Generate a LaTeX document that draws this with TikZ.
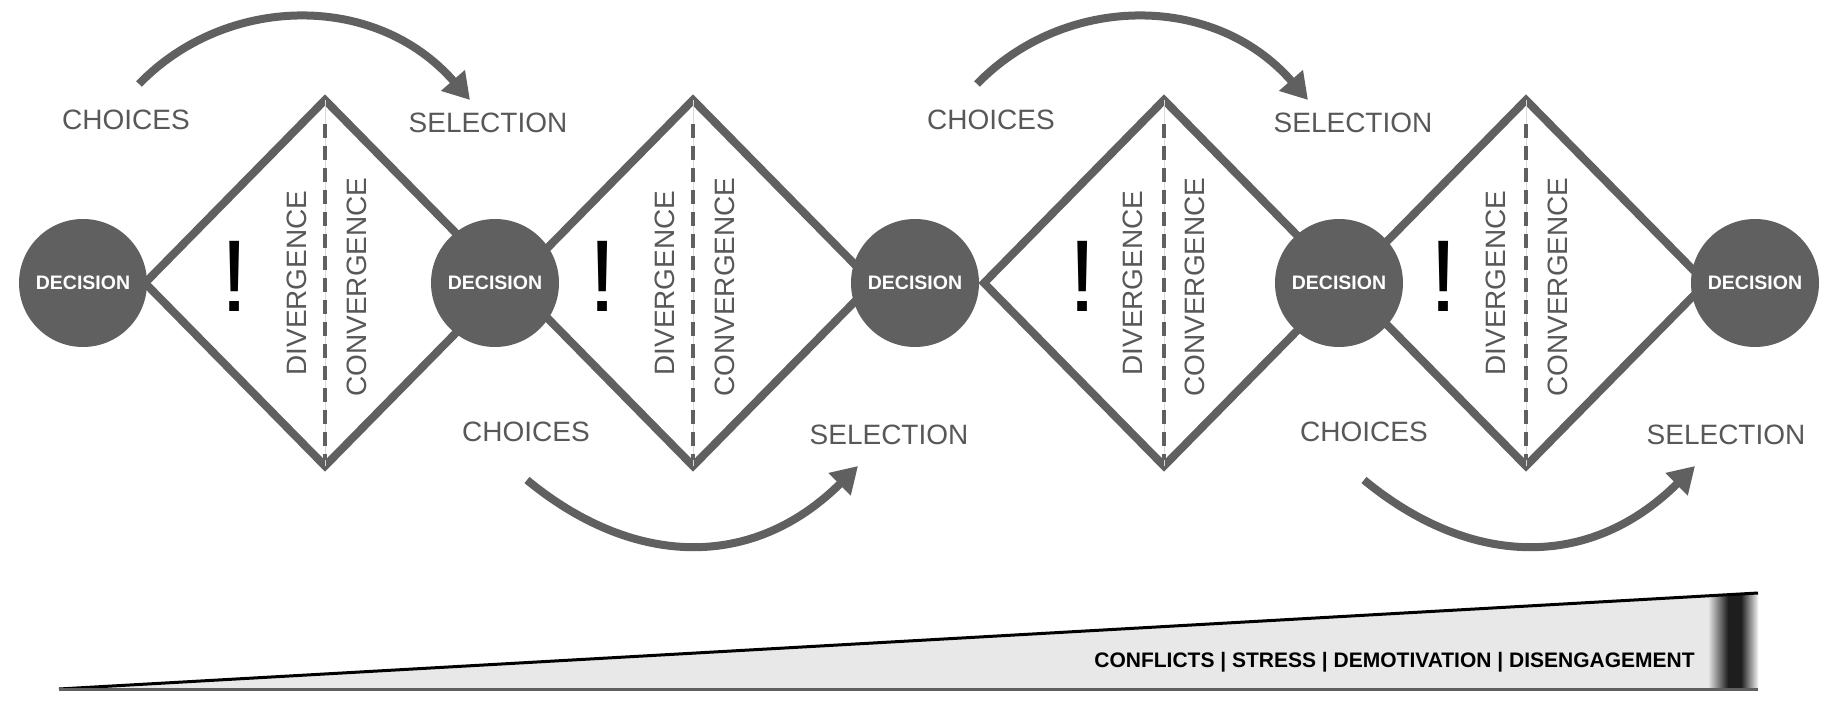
\documentclass[tikz,border=0pt]{standalone}
\usepackage{fontspec}
\setmainfont{Liberation Sans}
\usetikzlibrary{shapes.geometric, arrows.meta}
\definecolor{diagray}{HTML}{606060}
\definecolor{labelgray}{HTML}{585858}
\definecolor{wedgefill}{HTML}{E8E8E8}
\definecolor{banddark}{HTML}{1E1E1E}

\begin{document}
\begin{tikzpicture}[x=0.5pt, y=0.5pt,
    decnode/.style={circle, fill=diagray, minimum size=64pt, inner sep=0pt,
                    text=white, font=\fontsize{9.75}{10}\selectfont\bfseries},
    phasebox/.style={diamond, draw=diagray, line width=4pt, minimum width=180pt,
                     minimum height=183pt, inner sep=0pt, outer sep=0pt},
    midline/.style={draw=diagray, line width=1.75pt, dash pattern=on 7pt off 4pt},
    phaselabel/.style={rotate=90, text=labelgray, inner sep=0pt,
                       font=\fontsize{14}{14}\selectfont},
    steplabel/.style={text=labelgray, inner sep=0pt, font=\fontsize{14}{14}\selectfont},
    bang/.style={inner sep=0pt, font=\fontsize{51}{51}\selectfont},
    warntext/.style={inner sep=0pt, text=black, font=\fontsize{10.5}{11}\selectfont\bfseries},
    arr/.style={-{Triangle[length=13pt, width=15pt]}, line width=4pt, draw=diagray}
]
\useasboundingbox (0,0) rectangle (1844,719);

%% Bottom wedge %%
\coordinate (wtip)  at (59,30);
\coordinate (wtopr) at (1758,126);
\coordinate (wbotr) at (1758,30);
\fill[wedgefill] (wtip) -- (wtopr) -- (wbotr) -- cycle;
\begin{scope}
  \clip (wtip) -- (wtopr) -- (wbotr) -- cycle;
  \shade[left color=wedgefill, right color=banddark] (1708,0) rectangle (1728,140);
  \fill[banddark] (1728,0) rectangle (1741,140);
  \shade[left color=banddark, right color=white] (1741,0) rectangle (1759,140);
\end{scope}
\draw[black, line width=1.5pt] (wtip) -- (wtopr);
\draw[diagray, line width=1.5pt] (wtip) -- (wbotr);
\node[warntext, anchor=base east] (warn) at (1695,52)
    {CONFLICTS | STRESS | DEMOTIVATION | DISENGAGEMENT};

%% Diamonds %%
\node[phasebox] (dia1) at (325,436)  {};
\node[phasebox] (dia2) at (693,436)  {};
\node[phasebox] (dia3) at (1164,436) {};
\node[phasebox] (dia4) at (1526,436) {};

% split lines
\draw[black!15, line width=0.5pt] (dia1.north) -- (dia1.south);
\draw[black!15, line width=0.5pt] (dia2.north) -- (dia2.south);
\draw[black!15, line width=0.5pt] (dia3.north) -- (dia3.south);
\draw[black!15, line width=0.5pt] (dia4.north) -- (dia4.south);
\draw[midline] ([yshift=-12pt]dia1.north) -- ([yshift=3pt]dia1.south);
\draw[midline] ([yshift=-12pt]dia2.north) -- ([yshift=3pt]dia2.south);
\draw[midline] ([yshift=-12pt]dia3.north) -- ([yshift=3pt]dia3.south);
\draw[midline] ([yshift=-12pt]dia4.north) -- ([yshift=3pt]dia4.south);

% texts inside the diamonds
\node[bang]       (bang1) at (235,443)  {!};
\node[phaselabel] (div1)  at (297,436)  {DIVERGENCE};
\node[phaselabel] (con1)  at (357,432)  {CONVERGENCE};
\node[bang]       (bang2) at (603,443)  {!};
\node[phaselabel] (div2)  at (665,436)  {DIVERGENCE};
\node[phaselabel] (con2)  at (725,432)  {CONVERGENCE};
\node[bang]       (bang3) at (1083,443) {!};
\node[phaselabel] (div3)  at (1133,436) {DIVERGENCE};
\node[phaselabel] (con3)  at (1195,432) {CONVERGENCE};
\node[bang]       (bang4) at (1444,443) {!};
\node[phaselabel] (div4)  at (1496,436) {DIVERGENCE};
\node[phaselabel] (con4)  at (1558,432) {CONVERGENCE};

%% Decision circles %%
\node[decnode] (dec1) at (83,436)   {DECISION};
\node[decnode] (dec2) at (495,436)  {DECISION};
\node[decnode] (dec3) at (915,436)  {DECISION};
\node[decnode] (dec4) at (1339,436) {DECISION};
\node[decnode] (dec5) at (1755,436) {DECISION};

%% Labels %%
\node[steplabel] (cho1) at (126,599)  {CHOICES};
\node[steplabel] (sel1) at (488,596)  {SELECTION};
\node[steplabel] (cho2) at (526,287)  {CHOICES};
\node[steplabel] (sel2) at (889,284)  {SELECTION};
\node[steplabel] (cho3) at (991,599)  {CHOICES};
\node[steplabel] (sel3) at (1353,596) {SELECTION};
\node[steplabel] (cho4) at (1364,287) {CHOICES};
\node[steplabel] (sel4) at (1726,284) {SELECTION};

%% Curved arrows %%
\coordinate (arc1s) at (139,635);  \coordinate (arc1e) at (470,619);
\coordinate (arc2s) at (527,239);  \coordinate (arc2e) at (858,253);
\coordinate (arc3s) at (977,635);  \coordinate (arc3e) at (1308,619);
\coordinate (arc4s) at (1364,239); \coordinate (arc4e) at (1695,253);

\draw[arr] (arc1s) .. controls +(86,89) and +(-95,109) .. (arc1e);
\draw[arr] (arc3s) .. controls +(86,89) and +(-95,109) .. (arc3e);
\draw[arr] (arc2s) .. controls +(103,-85) and +(-108,-107) .. (arc2e);
\draw[arr] (arc4s) .. controls +(103,-85) and +(-108,-107) .. (arc4e);

\end{tikzpicture}
\end{document}
